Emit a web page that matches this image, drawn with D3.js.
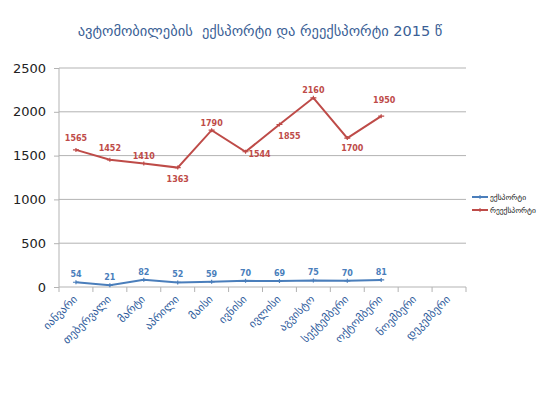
<!DOCTYPE html>
<html><head><meta charset="utf-8">
<script src="https://cdn.jsdelivr.net/npm/d3@7"></script>
<style>body{margin:0;background:#fff}svg{display:block}text{font-family:"DejaVu Sans",sans-serif}</style>
</head><body><svg id="c" width="550" height="412"></svg>
<script>
const months = ["იანვარი","თებერვალი","მარტი","აპრილი","მაისი","ივნისი","ივლისი","აგვისტო","სექტემბერი","ოქტომბერი","ნოემბერი","დეკემბერი"];
const exportVals = [54,21,82,52,59,70,69,75,70,81];
const reexportVals = [1565,1452,1410,1363,1790,1544,1855,2160,1700,1950];
const seriesNames = ["ექსპორტი","რეექსპორტი"];
const yTicks = [0,500,1000,1500,2000,2500];
const title = "ავტომობილების  ექსპორტი და რეექსპორტი 2015 წ";

const svg = d3.select("#c");
const L=59,R=466,T=68,B=287;
const x = d3.scaleBand().domain(months).range([L,R]);
const y = d3.scaleLinear().domain([0,2500]).range([B,T]);
const cx = m => x(m)+x.bandwidth()/2;

svg.append("text").attr("x",260).attr("y",36).attr("text-anchor","middle")
  .attr("font-size",14.5).attr("fill","#3b5f96").attr("xml:space","preserve").style("white-space","pre").text(title);

// gridlines
svg.append("g").selectAll("line").data(yTicks).join("line")
  .attr("x1",L).attr("x2",R).attr("y1",d=>y(d)).attr("y2",d=>y(d))
  .attr("stroke","#b3b3b3").attr("stroke-width",1);
svg.append("line").attr("x1",L).attr("x2",L).attr("y1",T).attr("y2",B).attr("stroke","#b3b3b3");

// y axis labels
const ya = svg.append("g").attr("transform",`translate(${L},0)`)
  .call(d3.axisLeft(y).tickValues(yTicks).tickFormat(d3.format("d")).tickSize(5).tickPadding(8));
ya.select(".domain").remove();
ya.selectAll("line").attr("stroke","#b3b3b3");
ya.selectAll("text").attr("font-size",13).attr("fill","#222").attr("font-family","'Open Sans',sans-serif");

// x axis
const xa = svg.append("g").attr("transform",`translate(0,${B})`)
  .call(d3.axisBottom(x).tickSize(0).tickPadding(0));
xa.select(".domain").remove();
xa.selectAll("text").attr("font-size",11).attr("fill","#2f5c9c")
  .attr("text-anchor","end").attr("dy",0)
  .attr("transform","translate(2,13) rotate(-45)");
svg.append("g").selectAll("line").data(d3.range(months.length+1)).join("line")
  .attr("x1",i=>L+i*x.step()).attr("x2",i=>L+i*x.step())
  .attr("y1",B).attr("y2",B+5).attr("stroke","#b3b3b3");

const blue="#4a7ebb", red="#be4b48";
const line = d3.line().x((d,i)=>cx(months[i])).y(d=>y(d));
function series(vals,col){
  svg.append("path").datum(vals).attr("d",line).attr("fill","none")
    .attr("stroke",col).attr("stroke-width",2);
  svg.append("g").selectAll("path").data(vals).join("path")
    .attr("transform",(d,i)=>`translate(${cx(months[i])},${y(d)})`)
    .attr("d","M-3,0H3M0,-2V2").attr("stroke",col).attr("stroke-width",1.2);
}
series(exportVals,blue);
series(reexportVals,red);

const redOff = [[0,-9],[0,-9],[0,-4],[0,14],[0,-4],[14,5],[10,14],[0,-5],[5,13],[3,-13]];
svg.append("g").selectAll("text").data(reexportVals).join("text")
  .attr("x",(d,i)=>cx(months[i])+redOff[i][0]).attr("y",(d,i)=>y(d)+redOff[i][1])
  .attr("text-anchor","middle").attr("font-size",8).attr("font-weight","bold")
  .attr("fill",red).text(d=>d);
svg.append("g").selectAll("text").data(exportVals).join("text")
  .attr("x",(d,i)=>cx(months[i])).attr("y",(d,i)=>y(d)-5)
  .attr("text-anchor","middle").attr("font-size",8).attr("font-weight","bold")
  .attr("fill",blue).text(d=>d);

// legend
const lg = svg.append("g");
[blue,red].forEach((c,i)=>{
  const yy=197+i*13;
  lg.append("line").attr("x1",472).attr("x2",488).attr("y1",yy).attr("y2",yy).attr("stroke",c).attr("stroke-width",2);
  lg.append("path").attr("transform",`translate(480,${yy})`).attr("d","M-3,0H3M0,-2V2").attr("stroke",c);
  lg.append("text").attr("x",490).attr("y",yy+3).attr("font-size",7.5).attr("fill","#111").text(seriesNames[i]);
});
</script></body></html>
